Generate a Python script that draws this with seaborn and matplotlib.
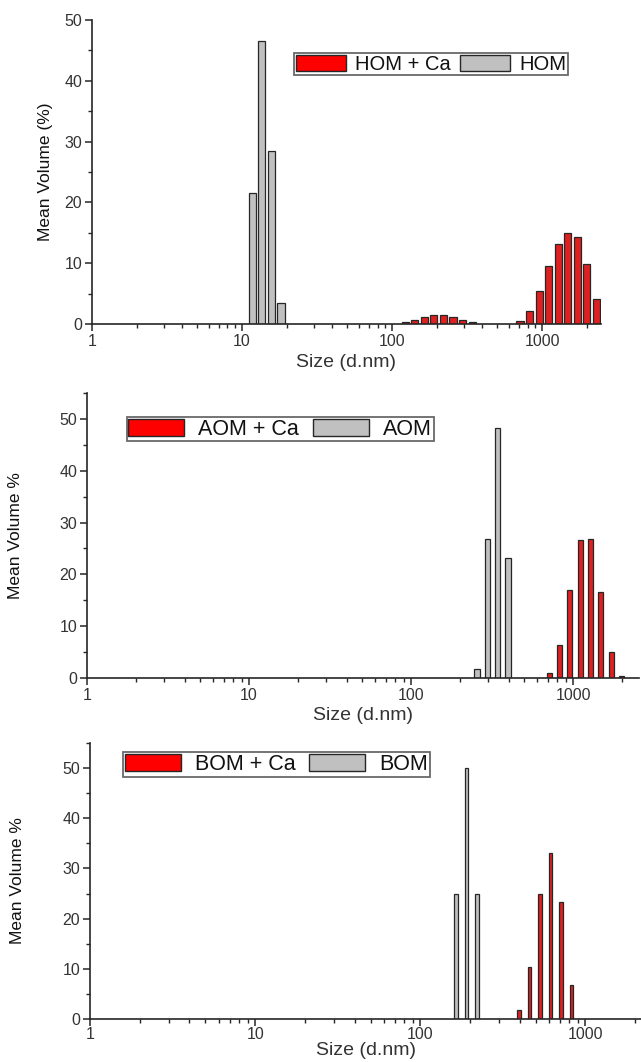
import numpy as np
import pandas as pd
import matplotlib
matplotlib.use("Agg")
import matplotlib.pyplot as plt
from matplotlib.patches import Patch
from matplotlib.ticker import LogLocator, FixedLocator, MultipleLocator, FuncFormatter
import seaborn as sns

# DLS volume distributions (size classes in d.nm, mean volume in %)
hom_ca_size = [122.4, 141.8, 164.2, 190.1, 220.2, 255.0, 295.3, 342.0,
               712.4, 825.0, 955.4, 1106, 1281, 1484, 1718, 1990, 2305]
hom_ca_vol = [0.3, 0.6, 1.1, 1.4, 1.4, 1.1, 0.6, 0.3,
              0.5, 2.1, 5.4, 9.6, 13.2, 15.0, 14.3, 9.9, 4.1]
hom_size = [11.7, 13.54, 15.69, 18.17]
hom_vol = [21.5, 46.5, 28.5, 3.5]

aom_ca_size = [712.4, 825.0, 955.4, 1106, 1281, 1484, 1718, 1990]
aom_ca_vol = [1.0, 6.4, 17.0, 26.7, 26.8, 16.6, 5.0, 0.4]
aom_size = [255.0, 295.3, 342.0, 396.1]
aom_vol = [1.7, 26.9, 48.2, 23.2]

bom_ca_size = [396.1, 458.7, 531.2, 615.1, 712.4, 825.0]
bom_ca_vol = [1.7, 10.3, 24.9, 33.0, 23.3, 6.7]
bom_size = [164.2, 190.1, 220.2]
bom_vol = [25.0, 50.0, 25.0]

RED = "#ff0000"
GREY = "#c0c0c0"
EDGE = "#262626"
TXT = "#333333"

sns.set_style("ticks")
plt.rcParams["font.family"] = ["Liberation Sans", "DejaVu Sans"]

fig = plt.figure(figsize=(6.41, 10.62), dpi=100)
W, H = 641.0, 1062.0


def add_axes(left, right, top, bottom):
    return fig.add_axes([left / W, 1 - bottom / H, (right - left) / W, (bottom - top) / H])


def panel(ax, ca_size, ca_vol, size, vol, name, ylabel, ymax, xmax,
          bar_width, leg_xy, leg_size, leg_hl, leg_gap,
          ylab_pad, xtick_pad, xlab_pad):
    label_ca = f"{name} + Ca"
    df = pd.DataFrame({
        "size": list(ca_size) + list(size),
        "vol": list(ca_vol) + list(vol),
        "sample": [label_ca] * len(ca_size) + [name] * len(size),
    })
    sns.barplot(data=df, x="size", y="vol", hue="sample",
                palette={label_ca: RED, name: GREY},
                native_scale=True, log_scale=(True, False), orient="x",
                dodge=False, width=bar_width, errorbar=None,
                edgecolor=EDGE, linewidth=0.9, legend=False, ax=ax)

    ax.set_xlim(1, xmax)
    ax.set_ylim(0, ymax)
    ax.xaxis.set_major_locator(FixedLocator([1, 10, 100, 1000]))
    ax.xaxis.set_minor_locator(LogLocator(base=10, subs=np.arange(2, 10)))
    ax.xaxis.set_major_formatter(FuncFormatter(lambda v, p: f"{v:g}"))
    ax.yaxis.set_major_locator(MultipleLocator(10))
    ax.yaxis.set_minor_locator(MultipleLocator(5))

    for s in ["top", "right"]:
        ax.spines[s].set_visible(False)
    for s in ["left", "bottom"]:
        ax.spines[s].set_color(EDGE)
        ax.spines[s].set_linewidth(1.2)
    ax.tick_params(axis="both", which="major", direction="out", length=5,
                   width=1.1, color=EDGE, labelsize=11.5, labelcolor=TXT, pad=2)
    ax.tick_params(axis="x", which="major", pad=xtick_pad)
    ax.tick_params(axis="both", which="minor", direction="out", length=3,
                   width=1.0, color=EDGE)

    ax.set_xlabel("Size (d.nm)", fontsize=14, color=TXT, labelpad=xlab_pad)
    ax.set_ylabel(ylabel, fontsize=12.5, color="#111111", labelpad=ylab_pad)

    handles = [Patch(facecolor=RED, edgecolor=EDGE, linewidth=1.0, label=label_ca),
               Patch(facecolor=GREY, edgecolor=EDGE, linewidth=1.0, label=name)]
    leg = ax.legend(handles=handles, ncol=2, loc="upper left", bbox_to_anchor=leg_xy,
                    frameon=True, fancybox=False, borderaxespad=0, borderpad=0.08,
                    handlelength=leg_hl, handleheight=0.85, handletextpad=leg_gap,
                    columnspacing=leg_gap, fontsize=leg_size)
    leg.get_frame().set_edgecolor("#444444")
    leg.get_frame().set_linewidth(1.3)
    for t in leg.get_texts():
        t.set_color("#111111")


ax1 = add_axes(92, 601, 20, 324)
panel(ax1, hom_ca_size, hom_ca_vol, hom_size, hom_vol, "HOM", "Mean Volume (%)",
      50, 2470, 0.75, (0.397, 0.891), 14.5, 2.5, 0.45, 8, 2, 4)

ax2 = add_axes(87, 639, 393, 678)
panel(ax2, aom_ca_size, aom_ca_vol, aom_size, aom_vol, "AOM", "Mean Volume %",
      55, 2550, 0.5, (0.072, 0.916), 15.5, 2.6, 0.65, 26, 2, 3)

ax3 = add_axes(90, 641, 743, 1019)
panel(ax3, bom_ca_size, bom_ca_vol, bom_size, bom_vol, "BOM", "Mean Volume %",
      55, 2170, 0.32, (0.06, 0.967), 15.5, 2.6, 0.65, 27, 0.5, 0)

fig.savefig("out.png", dpi=100, facecolor="white")
